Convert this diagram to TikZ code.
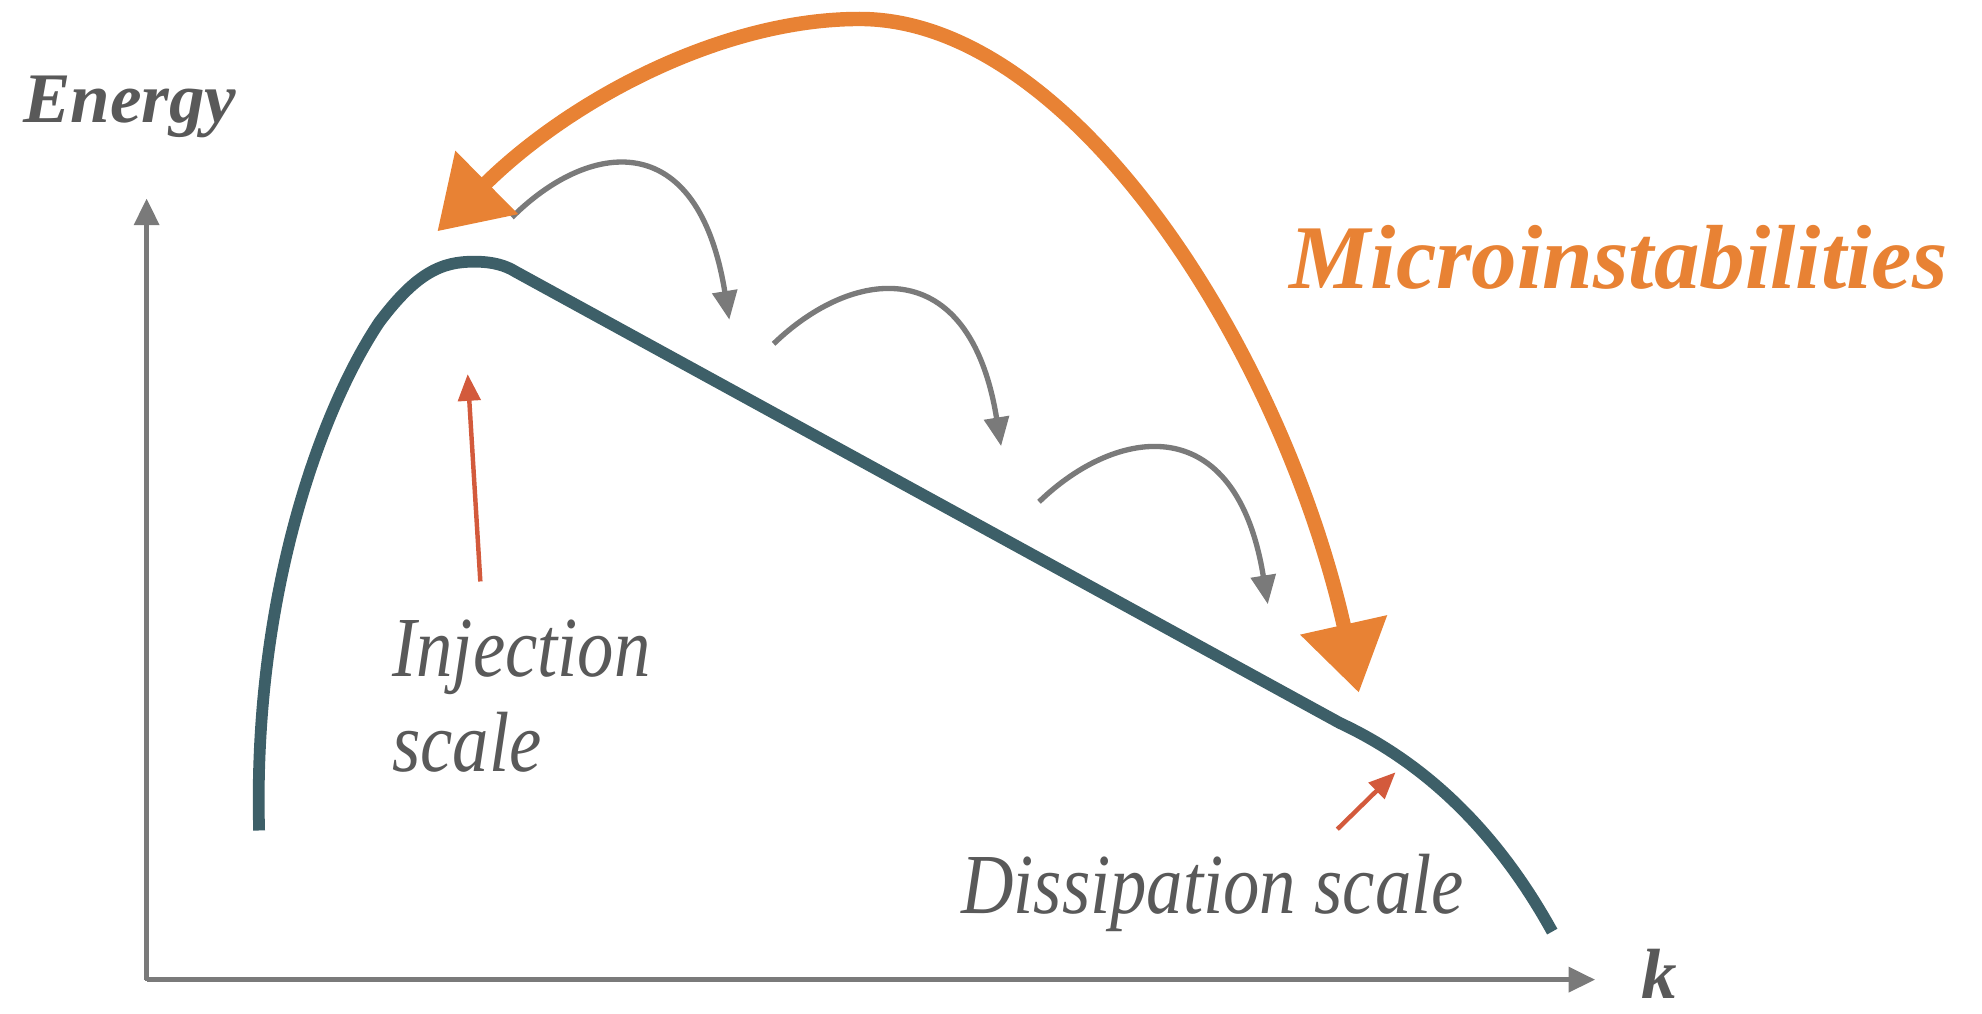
\documentclass[tikz,border=0pt]{standalone}
\usepackage{fontspec}
\setmainfont{Liberation Serif}
\usetikzlibrary{arrows.meta}
\definecolor{teal}{HTML}{3D5F68}
\definecolor{axisgray}{HTML}{7A7A7A}
\definecolor{txtgray}{HTML}{595959}
\definecolor{redarr}{HTML}{D35A3C}
\definecolor{orng}{HTML}{E88234}
\tikzset{
  axisline/.style={draw=axisgray, line width=2.4pt, -{Triangle[length=12pt,width=11pt]}},
  spectrum/.style={draw=teal, line width=5.3pt},
  cascade/.style={draw=axisgray, line width=2.4pt, -{Triangle[length=13pt,width=11pt]}},
  marker/.style={draw=redarr, line width=2pt, -{Triangle[length=12pt,width=10pt]}},
  instab/.style={draw=orng, line width=6.5pt, {Triangle[length=1.1cm,width=1.35cm]}-{Triangle[length=1.1cm,width=1.35cm]}},
  boldlabel/.style={text=txtgray, font=\fontsize{32}{36}\selectfont\bfseries\itshape, inner sep=0pt},
  scalelabel/.style={text=txtgray, font=\fontsize{38.5}{44}\selectfont\itshape, inner sep=0pt},
}
\begin{document}
\begin{tikzpicture}[x=0.02cm, y=-0.02cm]
\useasboundingbox (0,0) rectangle (1568,801.4);
% axes
\coordinate (origin) at (116,775);
\coordinate (ytip) at (116,157);
\coordinate (xtip) at (1262,775);
\draw[axisline] (origin) -- (ytip);
\draw[axisline] (origin) -- (xtip);
\fill[axisgray] (115,774) rectangle (117,776);
\node[boldlabel, anchor=base west] (energy) at (18,97) {Energy};
\node[boldlabel, anchor=base west] (klabel) at (1298,790) {k};
% spectrum curve
\coordinate (cstart) at (205,657);
\coordinate (cpeak) at (375,207);
\coordinate (knee) at (1060,572);
\coordinate (cend) at (1228,737);
\draw[spectrum] (cstart) .. controls (200,480) and (250,330) .. (300,255)
  .. controls (330,215) and (350,207) .. (cpeak)
  .. controls (390,207) and (400,210) .. (408,215)
  -- (knee) .. controls (1120,600) and (1180,650) .. (cend);
% cascade arrows
\coordinate (a1s) at (405,172); \coordinate (a1e) at (577,253);
\coordinate (a2s) at (612,272); \coordinate (a2e) at (792,353);
\coordinate (a3s) at (822,397); \coordinate (a3e) at (1003,478);
\draw[cascade] (a1s) .. controls ++(60,-60) and ++(-25,-155) .. (a1e);
\draw[cascade] (a2s) .. controls ++(62,-60) and ++(-25,-155) .. (a2e);
\draw[cascade] (a3s) .. controls ++(62,-60) and ++(-25,-155) .. (a3e);
% red markers
\coordinate (inj0) at (380,460); \coordinate (inj1) at (370,296);
\coordinate (dis0) at (1058,656); \coordinate (dis1) at (1104,611);
\draw[marker] (inj0) -- (inj1);
\draw[marker] (dis0) -- (dis1);
\node[scalelabel, anchor=base west] (inj) at (310,535) {\scalebox{0.85}[1]{Injection}};
\node[scalelabel, anchor=base west] (injs) at (310,610) {\scalebox{0.85}[1]{scale}};
\node[scalelabel, anchor=base west] (dis) at (760,723) {\scalebox{0.85}[1]{Dissipation scale}};
% microinstabilities
\coordinate (mleft) at (346,183);
\coordinate (mtop) at (680,15);
\coordinate (mright) at (1075,548);
\draw[instab] (mleft) .. controls (450,80) and (570,15) .. (mtop)
  .. controls (850,15) and (1015,280) .. (mright);
\node[text=orng, font=\fontsize{41}{46}\selectfont\bfseries\itshape, inner sep=0pt, anchor=base west] (micro) at (1020,228) {Microinstabilities};
\end{tikzpicture}
\end{document}
